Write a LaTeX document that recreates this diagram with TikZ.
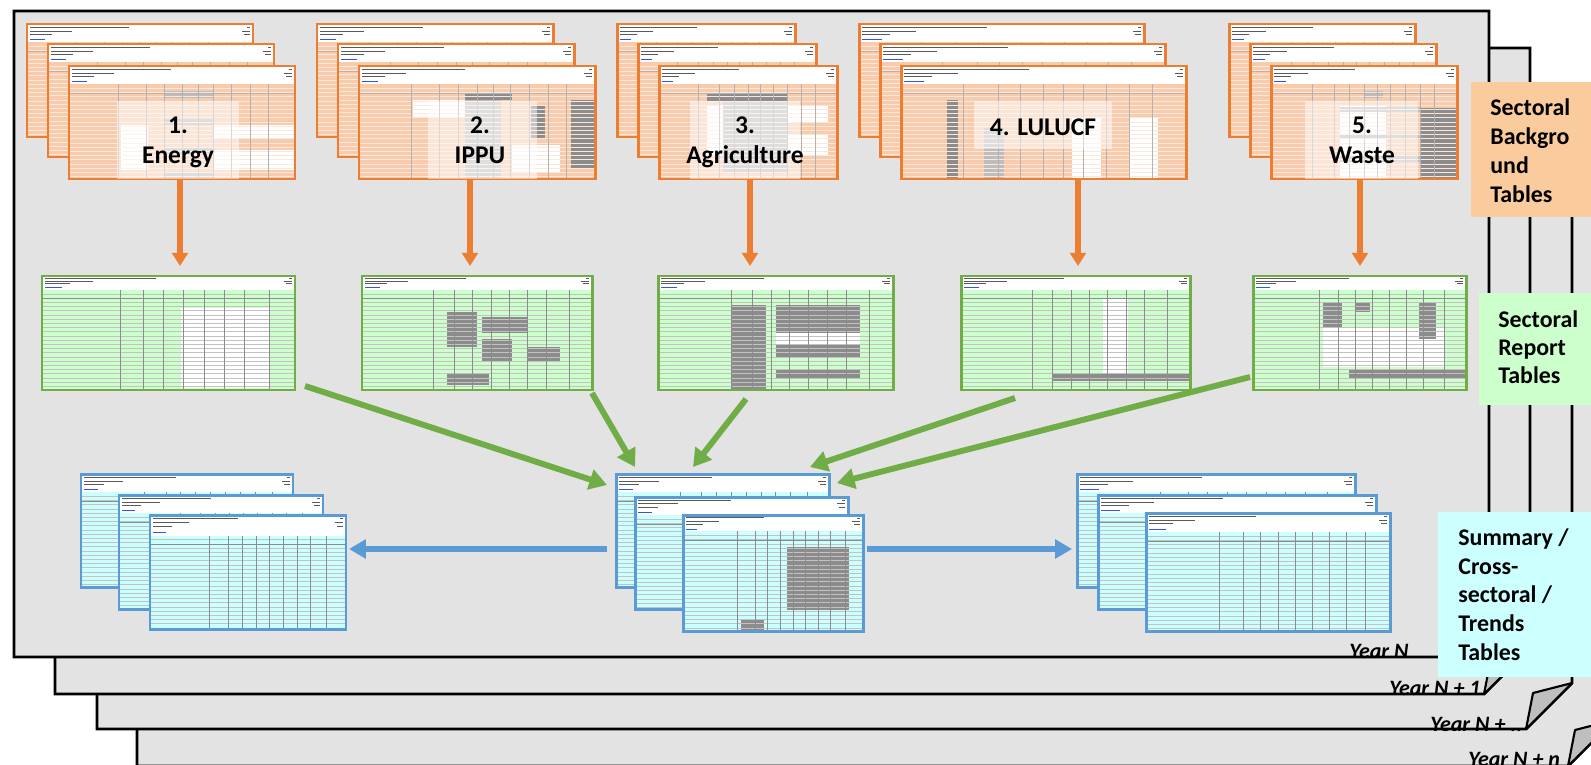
\documentclass[tikz,border=0pt]{standalone}
\usepackage{fontspec}
\setmainfont{Carlito}
\usetikzlibrary{arrows.meta,calc}

\definecolor{pagegray}{HTML}{E3E3E3}
\definecolor{flapgray}{HTML}{BFBFBF}
\definecolor{lblorange}{HTML}{FACB9C}
\definecolor{lblgreen}{HTML}{CCFFCC}
\definecolor{lblcyan}{HTML}{CCFFFF}
\definecolor{aorange}{HTML}{ED7D31}
\definecolor{agreen}{HTML}{70AD47}
\definecolor{ablue}{HTML}{5B9BD5}
\definecolor{opeach}{HTML}{F8CBAD}
\definecolor{gpale}{HTML}{CCFFCC}
\definecolor{bpale}{HTML}{CCFFFF}
\definecolor{cellgray}{HTML}{8C8C8C}
\definecolor{cellsilver}{HTML}{BDBDBD}
\definecolor{linkblue}{HTML}{3355EE}

% column positions (fractions of the sheet width)
\def\ocols{0.22,0.34,0.42,0.5,0.57,0.64,0.72,0.8,0.88}
\def\gcols{0.31,0.4,0.48,0.56,0.64,0.72,0.8,0.9}
\def\bcols{0.3,0.4,0.47,0.54,0.61,0.68,0.75,0.82,0.9}

% one spreadsheet thumbnail:
% #1 name, #2 x, #3 y, #4 width, #5 height, #6 kind (o/g/b), #7 header fraction, #8 extra cells
\newcommand\sheet[8]{%
  \node[sheetframe, minimum width={#4*0.02cm}, minimum height={#5*0.02cm}] (#1) at (#2,#3) {};
  \begin{scope}[shift={(#2,#3)}]
    \def\W{#4}\def\H{#5}%
    \pgfmathsetmacro\hh{#7*#5}%
    \fill[#6-body] (0,0) rectangle (\W,\H);
    \fill[white] (0,0) rectangle (\W,\hh);
    #8
    \pgfmathtruncatemacro\nr{(\H-\hh-1)/4.2}%
    \foreach \k in {1,...,\nr}{\draw[#6-row] (0,\hh+\k*4.2) -- (\W,\hh+\k*4.2);}
    \expandafter\let\expandafter\cols\csname #6cols\endcsname
    \foreach \c in \cols {\draw[#6-col] (\c*\W,\hh) -- (\c*\W,\H);}
    \draw[#6-col] (0,\hh+9) -- (\W,\hh+9);
    \draw[ink, line width=0.55pt] (3,0.18*\hh) -- (0.45*\W,0.18*\hh);
    \draw[ink] (3,0.38*\hh) -- (0.2*\W,0.38*\hh);
    \draw[ink] (3,0.56*\hh) -- (0.11*\W,0.56*\hh);
    \draw[linkblue, line width=0.35pt] (3,0.86*\hh) -- (0.08*\W,0.86*\hh);
    \draw[ink] (\W-6,0.18*\hh) -- (\W-3,0.18*\hh);
    \draw[ink] (\W-11,0.38*\hh) -- (\W-3,0.38*\hh);
    \draw[ink] (\W-9,0.56*\hh) -- (\W-3,0.56*\hh);
    \draw[#6-edge] (0,0) rectangle (\W,\H);
  \end{scope}}

\begin{document}
\begin{tikzpicture}[x=0.02cm, y=-0.02cm,
  sheetframe/.style={anchor=north west, inner sep=0pt, outer sep=0pt},
  page/.style={fill=pagegray, draw=black, line width=1.6pt, line join=miter},
  flap/.style={fill=flapgray, draw=black, line width=1.2pt, line join=round},
  ink/.style={draw=black!65, line width=0.4pt},
  o-body/.style={fill=opeach}, o-row/.style={draw=white!55!opeach, line width=0.3pt},
  o-col/.style={draw=black!30, line width=0.3pt}, o-edge/.style={draw=aorange, line width=1.7pt},
  g-body/.style={fill=gpale}, g-row/.style={draw=black!24, line width=0.3pt},
  g-col/.style={draw=black!45, line width=0.3pt}, g-edge/.style={draw=agreen, line width=1.7pt},
  b-body/.style={fill=bpale}, b-row/.style={draw=black!24, line width=0.3pt},
  b-col/.style={draw=black!45, line width=0.3pt}, b-edge/.style={draw=ablue, line width=1.7pt},
  veil/.style={fill=white, fill opacity=0.5},
  sectorlbl/.style={font=\bfseries\fontsize{14.5}{16}\selectfont, inner sep=0pt, anchor=base},
  sidelbl/.style={font=\bfseries\fontsize{13.6}{16}\selectfont, inner sep=0pt, anchor=base west},
  yeartxt/.style={font=\bfseries\itshape\fontsize{12.5}{14}\selectfont, inner sep=0pt, anchor=base west},
  oarr/.style={draw=aorange, line width=3.1pt, -{Triangle[length=7.5pt, width=9pt]}},
  garr/.style={draw=agreen, line width=3.4pt, -{Triangle[length=10pt, width=11.5pt]}},
  barr/.style={draw=ablue, line width=2.9pt, -{Triangle[length=9.6pt, width=10.5pt]}}]

\useasboundingbox (0,0) rectangle (1591,764);
\fill[white] (0,0) rectangle (1591,764);

% ---- stack of yearly pages, back to front ----
\draw[page] (137,124) -- (1614,124) -- (1614,720) -- (1568,766) -- (137,766) -- cycle;
\draw[flap] (1614,720) -- (1575,730) -- (1568,766) -- cycle;
\draw[page] (97,86) -- (1572,86) -- (1572,683) -- (1526,729) -- (97,729) -- cycle;
\draw[flap] (1572,683) -- (1533,693) -- (1526,729) -- cycle;
\draw[page] (55,48) -- (1530,48) -- (1530,648) -- (1484,694) -- (55,694) -- cycle;
\draw[flap] (1530,648) -- (1491,658) -- (1484,694) -- cycle;
\draw[page] (14,11) -- (1489,11) -- (1489,611) -- (1443,657) -- (14,657) -- cycle;
\draw[flap] (1489,611) -- (1450,621) -- (1443,657) -- cycle;

\node[yeartxt] (yN)  at (1349,658) {Year N};
\node[yeartxt] (yN1) at (1389,695) {Year N + 1};
\node[yeartxt] (yN2) at (1430,731) {Year N + ..};
\node[yeartxt] (yNn) at (1468,766) {Year N + n};

% ---- sectoral background tables ----
\sheet{bgEa}{27}{24}{226}{113}{o}{0.16}{}
\sheet{bgEb}{48}{44}{226}{113}{o}{0.16}{}
\sheet{bgE}{69}{66}{226}{113}{o}{0.16}{%
  \fill[white] (0.23*\W,0.52*\H) rectangle (0.35*\W,0.92*\H);
  \fill[white] (0.64*\W,0.52*\H) rectangle (\W,0.64*\H);
  \fill[white] (0.64*\W,0.74*\H) rectangle (\W,0.92*\H);
  \fill[cellsilver] (0.42*\W,0.22*\H) rectangle (0.64*\W,0.28*\H);
  \fill[cellsilver] (0.42*\W,0.47*\H) rectangle (0.64*\W,0.52*\H);
  \fill[cellsilver] (0.42*\W,0.72*\H) rectangle (0.64*\W,0.77*\H);
  \fill[cellsilver] (0.42*\W,0.95*\H) rectangle (0.64*\W,\H);}
\fill[veil] (117,101) rectangle (239,179);
\node[sectorlbl] (tE1) at (178,133) {1.};
\node[sectorlbl] (tE2) at (178,163) {Energy};

\sheet{bgIa}{317}{24}{236}{113}{o}{0.16}{}
\sheet{bgIb}{338}{44}{236}{113}{o}{0.16}{}
\sheet{bgI}{359}{66}{236}{113}{o}{0.16}{%
  \fill[white] (0.23*\W,0.3*\H) rectangle (0.48*\W,0.45*\H);
  \fill[cellsilver] (0.45*\W,0.3*\H) rectangle (0.6*\W,\H);
  \fill[cellgray] (0.73*\W,0.35*\H) rectangle (0.79*\W,0.65*\H);
  \fill[cellgray] (0.9*\W,0.3*\H) rectangle (\W,0.9*\H);
  \fill[cellgray] (0.45*\W,0.25*\H) rectangle (0.65*\W,0.3*\H);
  \fill[white] (0.65*\W,0.7*\H) rectangle (0.85*\W,0.95*\H);}
\fill[veil] (428,101) rectangle (537,179);
\node[sectorlbl] (tI1) at (480,133) {2.};
\node[sectorlbl] (tI2) at (480,163) {IPPU};

\sheet{bgAa}{617}{24}{178}{113}{o}{0.16}{}
\sheet{bgAb}{638}{44}{178}{113}{o}{0.16}{}
\sheet{bgA}{659}{66}{178}{113}{o}{0.16}{%
  \fill[cellgray] (0.27*\W,0.25*\H) rectangle (0.72*\W,0.31*\H);
  \fill[cellsilver] (0.36*\W,0.31*\H) rectangle (0.72*\W,0.95*\H);
  \fill[white] (0.27*\W,0.35*\H) rectangle (0.36*\W,0.8*\H);
  \fill[white] (0.72*\W,0.35*\H) rectangle (0.95*\W,0.5*\H);
  \fill[white] (0.72*\W,0.6*\H) rectangle (0.95*\W,0.8*\H);}
\fill[veil] (690,101) rectangle (800,179);
\node[sectorlbl] (tA1) at (745,133) {3.};
\node[sectorlbl] (tA2) at (745,163) {Agriculture};

\sheet{bgLa}{859}{24}{285}{113}{o}{0.16}{}
\sheet{bgLb}{880}{44}{285}{113}{o}{0.16}{}
\sheet{bgL}{901}{66}{285}{113}{o}{0.16}{%
  \fill[cellgray] (0.16*\W,0.3*\H) rectangle (0.2*\W,\H);
  \fill[cellsilver] (0.29*\W,0.55*\H) rectangle (0.36*\W,\H);
  \fill[white] (0.6*\W,0.45*\H) rectangle (0.7*\W,\H);
  \fill[white] (0.8*\W,0.45*\H) rectangle (0.9*\W,\H);}
\fill[veil] (974,101) rectangle (1112,149);
\node[sectorlbl] (tL) at (1043,135) {4. LULUCF};

\sheet{bgWa}{1229}{24}{186}{113}{o}{0.16}{}
\sheet{bgWb}{1250}{44}{186}{113}{o}{0.16}{}
\sheet{bgW}{1271}{66}{186}{113}{o}{0.16}{%
  \fill[white] (0.37*\W,0.35*\H) rectangle (0.62*\W,\H);
  \fill[cellgray] (0.8*\W,0.37*\H) rectangle (\W,\H);
  \fill[cellsilver] (0.37*\W,0.36*\H) rectangle (0.8*\W,0.41*\H);
  \fill[cellsilver] (0.37*\W,0.6*\H) rectangle (0.8*\W,0.65*\H);
  \fill[cellsilver] (0.37*\W,0.8*\H) rectangle (0.8*\W,0.85*\H);
  \fill[cellsilver] (0.5*\W,0.22*\H) rectangle (0.6*\W,0.28*\H);}
\fill[veil] (1305,101) rectangle (1418,179);
\node[sectorlbl] (tW1) at (1362,133) {5.};
\node[sectorlbl] (tW2) at (1362,163) {Waste};

% ---- sectoral report tables ----
\sheet{grE}{42}{276}{253}{114}{g}{0.12}{%
  \fill[white] (0.55*\W,0.28*\H) rectangle (0.9*\W,0.98*\H);}
\sheet{grI}{362}{276}{230}{114}{g}{0.12}{%
  \fill[cellgray] (0.37*\W,0.32*\H) rectangle (0.5*\W,0.62*\H);
  \fill[cellgray] (0.52*\W,0.36*\H) rectangle (0.72*\W,0.5*\H);
  \fill[cellgray] (0.52*\W,0.55*\H) rectangle (0.65*\W,0.75*\H);
  \fill[cellgray] (0.72*\W,0.62*\H) rectangle (0.86*\W,0.75*\H);
  \fill[cellgray] (0.37*\W,0.85*\H) rectangle (0.55*\W,0.96*\H);}
\sheet{grA}{658}{276}{235}{114}{g}{0.12}{%
  \fill[cellgray] (0.31*\W,0.25*\H) rectangle (0.46*\W,\H);
  \fill[cellgray] (0.5*\W,0.25*\H) rectangle (0.86*\W,0.5*\H);
  \fill[cellgray] (0.5*\W,0.6*\H) rectangle (0.86*\W,0.72*\H);
  \fill[cellgray] (0.5*\W,0.82*\H) rectangle (0.86*\W,0.9*\H);
  \fill[white] (0.5*\W,0.5*\H) rectangle (0.86*\W,0.6*\H);}
\sheet{grL}{961}{276}{229}{114}{g}{0.12}{%
  \fill[white] (0.62*\W,0.2*\H) rectangle (0.73*\W,0.85*\H);
  \fill[cellgray] (0.4*\W,0.86*\H) rectangle (\W,0.92*\H);}
\sheet{grW}{1253}{276}{213}{114}{g}{0.12}{%
  \fill[white] (0.33*\W,0.45*\H) rectangle (0.9*\W,0.8*\H);
  \fill[cellgray] (0.33*\W,0.23*\H) rectangle (0.42*\W,0.45*\H);
  \fill[cellgray] (0.48*\W,0.23*\H) rectangle (0.55*\W,0.32*\H);
  \fill[cellgray] (0.78*\W,0.23*\H) rectangle (0.86*\W,0.55*\H);
  \fill[cellgray] (0.45*\W,0.82*\H) rectangle (\W,0.9*\H);}

% ---- summary / trend tables ----
\sheet{sumLA}{81}{474}{212}{113}{b}{0.16}{}
\sheet{sumLB}{119}{495}{204}{114}{b}{0.16}{}
\sheet{sumLC}{150}{515}{196}{114}{b}{0.18}{}
\sheet{sumA}{616}{474}{213}{113}{b}{0.16}{}
\sheet{sumB}{635}{497}{213}{112}{b}{0.16}{}
\sheet{sumC}{683}{515}{180}{116}{b}{0.14}{%
  \fill[cellgray] (0.58*\W,0.28*\H) rectangle (0.92*\W,0.82*\H);
  \fill[cellgray] (0.32*\W,0.9*\H) rectangle (0.45*\W,\H);}
\sheet{sumRA}{1077}{474}{278}{113}{b}{0.16}{}
\sheet{sumRB}{1098}{495}{278}{114}{b}{0.16}{}
\sheet{sumRC}{1146}{513}{244}{118}{b}{0.16}{}

% ---- flow arrows ----
\path (180,0) coordinate (xE) (470,0) coordinate (xI) (750,0) coordinate (xA)
      (1078,0) coordinate (xL) (1360,0) coordinate (xW) (0,549) coordinate (by);
\draw[oarr, shorten >=5.7pt] (bgE.south -| xE) -- (grE.north -| xE);
\draw[oarr, shorten >=5.7pt] (bgI.south -| xI) -- (grI.north -| xI);
\draw[oarr, shorten >=5.7pt] (bgA.south -| xA) -- (grA.north -| xA);
\draw[oarr, shorten >=5.7pt] (bgL.south -| xL) -- (grL.north -| xL);
\draw[oarr, shorten >=5.7pt] (bgW.south -| xW) -- (grW.north -| xW);

\draw[garr] ($(grE.south east)+(10,-4)$) -- ($(sumA.north west)+(-9,11)$);
\draw[garr] ($(grI.south east)+(0,3)$) -- ($(sumA.north west)+(19,-7)$);
\draw[garr] ($(grA.south west)+(88,9)$) -- ($(sumA.north west)+(77,-7)$);
\draw[garr] ($(grL.south west)+(54,8)$) -- ($(sumA.north east)+(-19,-7)$);
\draw[garr] ($(grW.south west)+(-3,-13)$) -- ($(sumA.north east)+(8,9)$);

\draw[barr] ($(sumA.west |- by)+(-9,0)$) -- ($(sumLC.east |- by)+(3,0)$);
\draw[barr] ($(sumC.east |- by)+(4,0)$) -- ($(sumRA.west |- by)+(-5,0)$);

% ---- category labels ----
\fill[lblorange] (1471,82) rectangle (1591,217);
\node[sidelbl] (o1) at (1490,115) {Sectoral};
\node[sidelbl] (o2) at (1490,144) {Backgro};
\node[sidelbl] (o3) at (1490,173) {und};
\node[sidelbl] (o4) at (1490,202) {Tables};

\fill[lblgreen] (1479,293) rectangle (1591,405);
\node[sidelbl] (g1) at (1498,327) {Sectoral};
\node[sidelbl] (g2) at (1498,355) {Report};
\node[sidelbl] (g3) at (1498,383) {Tables};

\fill[lblcyan] (1438,512) rectangle (1591,677);
\node[sidelbl] (c1) at (1458,545) {Summary /};
\node[sidelbl] (c2) at (1458,574) {Cross-};
\node[sidelbl] (c3) at (1458,602) {sectoral /};
\node[sidelbl] (c4) at (1458,631) {Trends};
\node[sidelbl] (c5) at (1458,660) {Tables};
\end{tikzpicture}
\end{document}
